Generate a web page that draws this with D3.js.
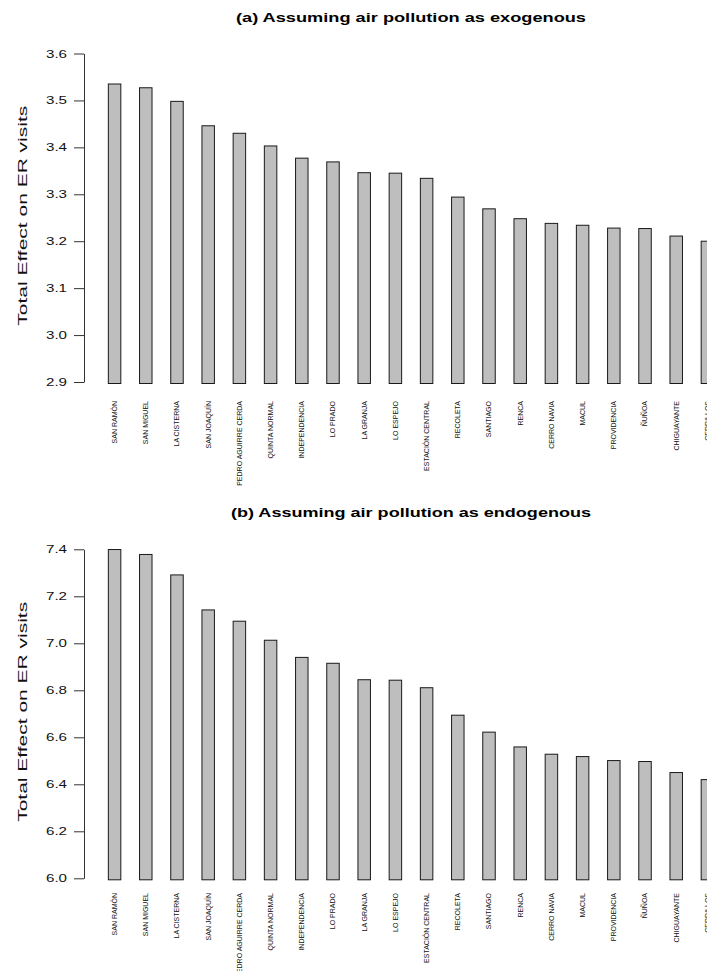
<!DOCTYPE html>
<html>
<head>
<meta charset="utf-8">
<script src="https://cdn.jsdelivr.net/npm/d3@7"></script>
<style>
  body { margin: 0; background: #fff; }
  svg { display: block; }
</style>
</head>
<body>
<div id="chart"></div>
<script>
const WIDTH = 707;
const HEIGHT = 971;
const FONT = "'Liberation Sans', Arial, Helvetica, sans-serif";

// === DATA ===
const communes = [
    "SAN RAMÓN", "SAN MIGUEL", "LA CISTERNA", "SAN JOAQUÍN", "PEDRO AGUIRRE CERDA",
    "QUINTA NORMAL", "INDEPENDENCIA", "LO PRADO", "LA GRANJA", "LO ESPEJO",
    "ESTACIÓN CENTRAL", "RECOLETA", "SANTIAGO", "RENCA", "CERRO NAVIA",
    "MACUL", "PROVIDENCIA", "ÑUÑOA", "CHIGUAYANTE", "CERRILLOS"
];
const exogenous = [
    3.535, 3.527, 3.498, 3.446, 3.430, 3.403, 3.377, 3.369, 3.346, 3.345,
    3.334, 3.294, 3.269, 3.248, 3.238, 3.234, 3.228, 3.227, 3.211, 3.200
];
const endogenous = [
    7.399, 7.378, 7.291, 7.142, 7.094, 7.013, 6.940, 6.915, 6.845, 6.843,
    6.811, 6.694, 6.622, 6.559, 6.528, 6.518, 6.501, 6.497, 6.450, 6.420
];
const exoTicks = [2.9, 3.0, 3.1, 3.2, 3.3, 3.4, 3.5, 3.6];
const endoTicks = [6.0, 6.2, 6.4, 6.6, 6.8, 7.0, 7.2, 7.4];
const yLabel = "Total Effect on ER visits";

// === LAYOUT ===
const AXIS_X = 84;
const PLOT_RIGHT = 738;

const panels = [
    { title: "(a) Assuming air pollution as exogenous", values: exogenous, ticks: exoTicks,
      top: 53.5, bottom: 382, titleY: 22, titleLen: 350, nameY: 401 },
    { title: "(b) Assuming air pollution as endogenous", values: endogenous, ticks: endoTicks,
      top: 549.3, bottom: 878.3, titleY: 517, titleLen: 360, nameY: 893 }
];

const svg = d3.select("#chart")
    .append("svg")
    .attr("width", WIDTH)
    .attr("height", HEIGHT)
    .style("font-family", FONT);

const x = d3.scaleBand()
    .domain(communes)
    .range([AXIS_X, PLOT_RIGHT])
    .paddingInner(0.6)
    .paddingOuter(0.78);

panels.forEach(drawPanel);

function drawPanel(p) {
    const g = svg.append("g");

    const y = d3.scaleLinear()
        .domain([p.ticks[0], p.ticks[p.ticks.length - 1]])
        .range([p.bottom, p.top]);

    // bars
    g.selectAll(".bar")
        .data(p.values)
        .enter()
        .append("rect")
        .attr("class", "bar")
        .attr("x", (d, i) => x(communes[i]))
        .attr("y", d => y(d))
        .attr("width", x.bandwidth())
        .attr("height", d => p.bottom - y(d) + 1.5)
        .attr("fill", "#bebebe")
        .attr("stroke", "#1a1a1a")
        .attr("stroke-width", 1);

    // y axis
    const axis = d3.axisLeft(y)
        .tickValues(p.ticks)
        .tickFormat(d3.format(".1f"))
        .tickSize(10)
        .tickSizeOuter(0)
        .tickPadding(7);

    const ax = g.append("g")
        .attr("transform", `translate(${AXIS_X},0)`)
        .call(axis);
    ax.select(".domain").attr("stroke", "#333");
    ax.selectAll(".tick line").attr("stroke", "#333");
    ax.selectAll(".tick text")
        .attr("fill", "#111")
        .style("font-family", FONT)
        .style("font-size", "11px")
        .attr("textLength", 21)
        .attr("lengthAdjust", "spacingAndGlyphs");

    // commune names
    g.selectAll(".name")
        .data(communes)
        .enter()
        .append("text")
        .attr("class", "name")
        .attr("transform", d => `translate(${x(d) + x.bandwidth() / 2},${p.nameY}) rotate(-90)`)
        .attr("text-anchor", "end")
        .attr("dy", "0.35em")
        .style("font-size", "7px")
        .attr("fill", "#111")
        .text(d => d);

    // y label
    g.append("text")
        .attr("transform", `translate(22,${(p.top + p.bottom) / 2 - 2}) rotate(-90)`)
        .attr("text-anchor", "middle")
        .attr("dy", "0.35em")
        .style("font-size", "13px")
        .attr("textLength", 220)
        .attr("lengthAdjust", "spacingAndGlyphs")
        .attr("fill", "#111")
        .text(yLabel);

    // title
    g.append("text")
        .attr("x", (AXIS_X + PLOT_RIGHT) / 2)
        .attr("y", p.titleY)
        .attr("text-anchor", "middle")
        .style("font-size", "13px")
        .style("font-weight", "bold")
        .attr("textLength", p.titleLen)
        .attr("lengthAdjust", "spacingAndGlyphs")
        .attr("fill", "#000")
        .text(p.title);
}
</script>
</body>
</html>
